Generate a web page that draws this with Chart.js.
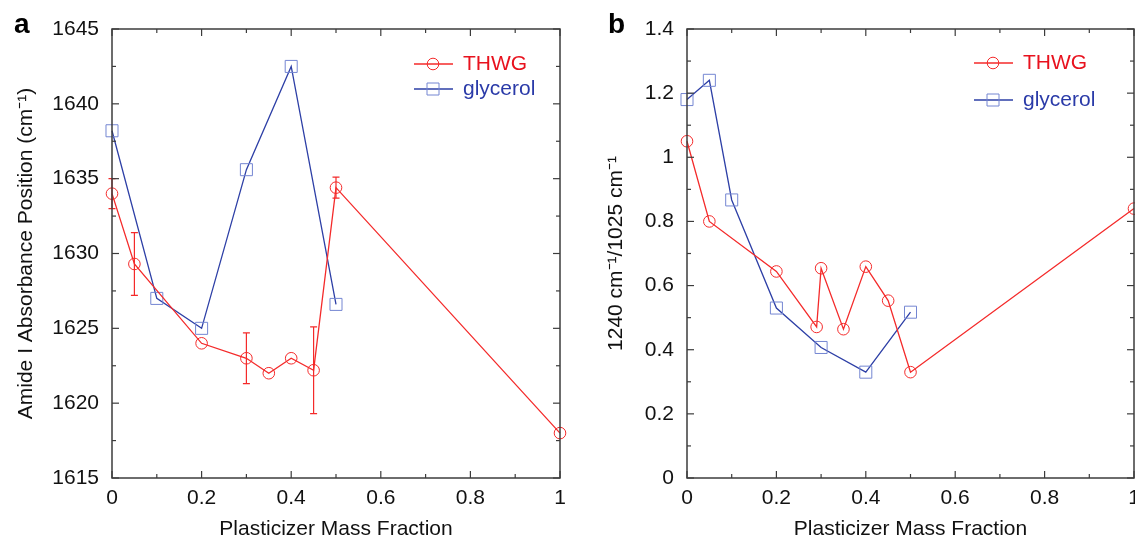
<!DOCTYPE html>
<html>
<head>
<meta charset="utf-8">
<script src="https://cdn.jsdelivr.net/npm/chart.js@4.4.1/dist/chart.umd.min.js"></script>
<style>
html, body { margin: 0; padding: 0; background: #fff; }
#wrap { position: relative; width: 1135px; height: 538px; overflow: hidden; }
.panel { position: absolute; top: 0; height: 538px; }
#pa { left: 0; width: 567px; }
#pb { left: 567px; width: 568px; }
</style>
</head>
<body>
<div id="wrap">
    <div class="panel" id="pa"><canvas id="chartA"></canvas></div>
    <div class="panel" id="pb"><canvas id="chartB"></canvas></div>
</div>
<script>
// Panel a: amide I absorbance position
const thwgX_a = [0, 0.05, 0.2, 0.3, 0.35, 0.4, 0.45, 0.5, 1];
const thwgY_a = [1634.0, 1629.3, 1624.0, 1623.0, 1622.0, 1623.0, 1622.2, 1634.4, 1618.0];
const thwgErr_a = [1.0, 2.1, 0, 1.7, 0, 0, 2.9, 0.7, 0];
const glyX_a = [0, 0.1, 0.2, 0.3, 0.4, 0.5];
const glyY_a = [1638.2, 1627.0, 1625.0, 1635.6, 1642.5, 1626.6];

// Panel b: 1240/1025 band ratio
const thwgX_b = [0, 0.05, 0.2, 0.29, 0.3, 0.35, 0.4, 0.45, 0.5, 1];
const thwgY_b = [1.05, 0.80, 0.644, 0.471, 0.654, 0.464, 0.659, 0.553, 0.33, 0.84];
const glyX_b = [0, 0.05, 0.1, 0.2, 0.3, 0.4, 0.5];
const glyY_b = [1.18, 1.24, 0.867, 0.53, 0.407, 0.33, 0.517];

// Tick values
const xTicks = [0, 0.2, 0.4, 0.6, 0.8, 1];
const xMinor = [0.1, 0.3, 0.5, 0.7, 0.9];
const yTicks_a = [1615, 1620, 1625, 1630, 1635, 1640, 1645];
const yMinor_a = [1617.5, 1622.5, 1627.5, 1632.5, 1637.5, 1642.5];
const yTicks_b = [0, 0.2, 0.4, 0.6, 0.8, 1, 1.2, 1.4];
const yMinor_b = [0.1, 0.3, 0.5, 0.7, 0.9, 1.1, 1.3];

const seriesNames = ['THWG', 'glycerol'];

const red = '#f42a2a';
const redText = '#e8121e';
const blueLine = '#2d3fa6';
const blueMark = '#7486d2';
const blueText = '#2a3aa8';
const axisColor = '#3c3c3c';
const fontFamily = "'Liberation Sans', Arial, sans-serif";

const toPoints = (xs, ys) => xs.map((x, i) => ({ x: x, y: ys[i] }));

// box, inward ticks, panel letter
const framePlugin = {
    id: 'frame',
    afterDraw(chart, args, opts) {
        const { ctx, chartArea: a, scales: { x, y } } = chart;
        ctx.save();
        ctx.strokeStyle = axisColor;
        ctx.lineWidth = 1.5;
        ctx.strokeRect(a.left, a.top, a.right - a.left, a.bottom - a.top);
        ctx.lineWidth = 1.2;
        const tick = (px, py, dx, dy) => {
            ctx.beginPath();
            ctx.moveTo(px, py);
            ctx.lineTo(px + dx, py + dy);
            ctx.stroke();
        };
        x.ticks.forEach(t => {
            const px = x.getPixelForValue(t.value);
            tick(px, a.bottom, 0, -7);
            tick(px, a.top, 0, 7);
        });
        opts.xMinor.forEach(v => {
            const px = x.getPixelForValue(v);
            tick(px, a.bottom, 0, -4);
            tick(px, a.top, 0, 4);
        });
        y.ticks.forEach(t => {
            const py = y.getPixelForValue(t.value);
            tick(a.left, py, 7, 0);
            tick(a.right, py, -7, 0);
        });
        opts.yMinor.forEach(v => {
            const py = y.getPixelForValue(v);
            tick(a.left, py, 4, 0);
            tick(a.right, py, -4, 0);
        });
        ctx.fillStyle = '#000';
        ctx.font = 'bold 28px ' + fontFamily;
        ctx.textBaseline = 'alphabetic';
        ctx.fillText(opts.letter, opts.letterX, 33);
        ctx.restore();
    }
};

// vertical error bars taken from dataset.errors
const errorBarPlugin = {
    id: 'errorBars',
    afterDatasetsDraw(chart) {
        const { ctx, scales: { y } } = chart;
        chart.data.datasets.forEach((ds, i) => {
            if (!ds.errors) return;
            const meta = chart.getDatasetMeta(i);
            ctx.save();
            ctx.strokeStyle = ds.borderColor;
            ctx.lineWidth = 1.2;
            meta.data.forEach((pt, j) => {
                const e = ds.errors[j];
                if (!e) return;
                const v = ds.data[j].y;
                const top = y.getPixelForValue(v + e);
                const bot = y.getPixelForValue(v - e);
                ctx.beginPath();
                ctx.moveTo(pt.x, top); ctx.lineTo(pt.x, bot);
                ctx.moveTo(pt.x - 3.5, top); ctx.lineTo(pt.x + 3.5, top);
                ctx.moveTo(pt.x - 3.5, bot); ctx.lineTo(pt.x + 3.5, bot);
                ctx.stroke();
            });
            ctx.restore();
        });
    }
};

// legend drawn inside the plot, line with marker in the middle
const insideLegendPlugin = {
    id: 'insideLegend',
    afterDraw(chart, args, opts) {
        const { ctx, chartArea: a } = chart;
        ctx.save();
        chart.data.datasets.forEach((ds, i) => {
            const y0 = a.top + opts.rows[i];
            const x0 = a.right - opts.fromRight;
            const xm = x0 + 19;
            ctx.strokeStyle = ds.borderColor;
            ctx.lineWidth = 1.3;
            ctx.beginPath();
            ctx.moveTo(x0, y0); ctx.lineTo(x0 + 39, y0);
            ctx.stroke();
            ctx.strokeStyle = ds.pointBorderColor;
            ctx.lineWidth = 1;
            ctx.beginPath();
            if (ds.pointStyle === 'rect') {
                ctx.rect(xm - 6, y0 - 6, 12, 12);
            } else {
                ctx.arc(xm, y0, 5.8, 0, Math.PI * 2);
            }
            ctx.stroke();
            ctx.fillStyle = ds.legendColor;
            ctx.font = '21px ' + fontFamily;
            ctx.textBaseline = 'middle';
            ctx.fillText(ds.label, x0 + 49, y0);
        });
        ctx.restore();
    }
};

function makeChart(canvasId, cfg) {
    const ctx = document.getElementById(canvasId).getContext('2d');
    return new Chart(ctx, {
        type: 'scatter',
        data: {
            datasets: [{
                label: seriesNames[0],
                data: toPoints(cfg.thwgX, cfg.thwgY),
                errors: cfg.thwgErr,
                showLine: true,
                borderColor: red,
                borderWidth: 1.3,
                pointStyle: 'circle',
                pointRadius: 5.8,
                pointBorderWidth: 1,
                pointBorderColor: red,
                pointBackgroundColor: 'rgba(0,0,0,0)',
                legendColor: redText,
                clip: false
            }, {
                label: seriesNames[1],
                data: toPoints(cfg.glyX, cfg.glyY),
                showLine: true,
                borderColor: blueLine,
                borderWidth: 1.3,
                pointStyle: 'rect',
                pointRadius: 8.5,
                pointBorderWidth: 1,
                pointBorderColor: blueMark,
                pointBackgroundColor: 'rgba(0,0,0,0)',
                legendColor: blueText,
                clip: false
            }]
        },
        options: {
            responsive: true,
            maintainAspectRatio: false,
            animation: false,
            layout: { autoPadding: false, padding: { top: 29, right: cfg.padRight, left: 0, bottom: 0 } },
            plugins: {
                legend: { display: false },
                tooltip: { enabled: false },
                frame: { xMinor: xMinor, yMinor: cfg.yMinor, letter: cfg.letter, letterX: cfg.letterX },
                insideLegend: { rows: cfg.legendRows, fromRight: cfg.legendFromRight }
            },
            scales: {
                x: {
                    type: 'linear',
                    min: 0,
                    max: 1,
                    afterBuildTicks: s => { s.ticks = xTicks.map(v => ({ value: v })); },
                    afterFit: s => { s.height = 60; s.paddingLeft = 0; s.paddingRight = 0; },
                    grid: { display: false, drawTicks: false },
                    border: { display: false },
                    ticks: {
                        color: '#111', font: { family: fontFamily, size: 21 }, padding: 8,
                        maxRotation: 0, autoSkip: false, callback: v => String(v)
                    },
                    title: {
                        display: true,
                        text: 'Plasticizer Mass Fraction',
                        color: '#111',
                        font: { family: fontFamily, size: 21, lineHeight: 0.8 },
                        padding: { top: 0, bottom: 0 }
                    }
                },
                y: {
                    type: 'linear',
                    min: cfg.yTicks[0],
                    max: cfg.yTicks[cfg.yTicks.length - 1],
                    afterBuildTicks: s => { s.ticks = cfg.yTicks.map(v => ({ value: v })); },
                    afterFit: s => { s.width = cfg.yWidth; s.paddingTop = 0; s.paddingBottom = 0; },
                    grid: { display: false, drawTicks: false },
                    border: { display: false },
                    ticks: {
                        color: '#111', font: { family: fontFamily, size: 21 }, padding: 13,
                        autoSkip: false, callback: v => String(v)
                    },
                    title: {
                        display: true,
                        text: cfg.yTitle,
                        color: '#111',
                        font: { family: fontFamily, size: 21, lineHeight: 1 },
                        padding: { top: cfg.yTitlePad, bottom: 0 }
                    }
                }
            }
        },
        plugins: [framePlugin, errorBarPlugin, insideLegendPlugin]
    });
}

makeChart('chartA', {
    thwgX: thwgX_a, thwgY: thwgY_a, thwgErr: thwgErr_a,
    glyX: glyX_a, glyY: glyY_a,
    yTicks: yTicks_a, yMinor: yMinor_a,
    yTitle: 'Amide I Absorbance Position (cm\u207B\u00B9)',
    yWidth: 112, yTitlePad: 16, padRight: 7,
    letter: 'a', letterX: 14,
    legendRows: [35, 60], legendFromRight: 146
});

makeChart('chartB', {
    thwgX: thwgX_b, thwgY: thwgY_b, thwgErr: null,
    glyX: glyX_b, glyY: glyY_b,
    yTicks: yTicks_b, yMinor: yMinor_b,
    yTitle: '1240 cm\u207B\u00B9/1025 cm\u207B\u00B9',
    yWidth: 120, yTitlePad: 39, padRight: 1,
    letter: 'b', letterX: 41,
    legendRows: [34, 71], legendFromRight: 160
});
</script>
</body>
</html>
